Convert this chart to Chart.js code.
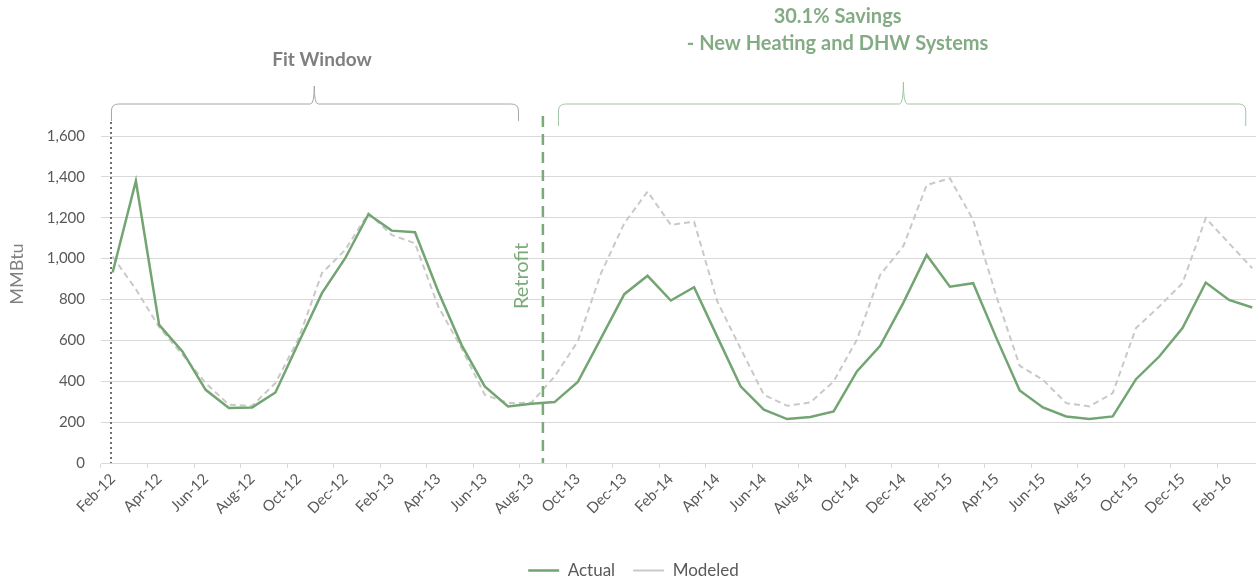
<!DOCTYPE html>
<html>
<head>
<meta charset="utf-8">
<script src="https://cdn.jsdelivr.net/npm/chart.js@4"></script>
<style>
html, body { margin: 0; padding: 0; background: #fff; overflow: hidden; }
#wrap { width: 1267px; height: 589px; position: relative; }
</style>
</head>
<body>
<div id="wrap"><canvas id="miGrafico"></canvas></div>
<script>
// meses Feb-12 .. Mar-16
const meses = [
    'Feb-12','Mar-12','Apr-12','May-12','Jun-12','Jul-12','Aug-12','Sep-12','Oct-12','Nov-12','Dec-12','Jan-13',
    'Feb-13','Mar-13','Apr-13','May-13','Jun-13','Jul-13','Aug-13','Sep-13','Oct-13','Nov-13','Dec-13','Jan-14',
    'Feb-14','Mar-14','Apr-14','May-14','Jun-14','Jul-14','Aug-14','Sep-14','Oct-14','Nov-14','Dec-14','Jan-15',
    'Feb-15','Mar-15','Apr-15','May-15','Jun-15','Jul-15','Aug-15','Sep-15','Oct-15','Nov-15','Dec-15','Jan-16',
    'Feb-16','Mar-16'
];
const actual = [
    932, 1380, 676, 546, 358, 269, 272, 345, 590, 831, 1002, 1217,
    1137, 1129, 839, 578, 375, 277, 290, 298, 396, 611, 826, 916,
    795, 860, 617, 375, 261, 215, 225, 252, 448, 573, 785, 1018,
    863, 880, 611, 355, 272, 228, 215, 228, 410, 521, 660, 883,
    798, 761
];
const modeled = [
    1010, 850, 665, 530, 391, 285, 280, 391, 610, 929, 1043, 1222,
    1116, 1075, 766, 562, 334, 293, 295, 423, 595, 929, 1173, 1328,
    1165, 1181, 790, 560, 334, 280, 296, 399, 603, 920, 1062, 1360,
    1393, 1189, 815, 476, 407, 293, 277, 342, 660, 766, 880, 1198,
    1075, 953
];
const yTicks = [0, 200, 400, 600, 800, 1000, 1200, 1400, 1600];

const FONT = 'Lato, "Liberation Sans", sans-serif';
const VERDE = '#72a572';
const GRIS_TXT = '#595959';

// llaves, lineas y textos (posiciones en indices de categoria)
function llave(ctx, x1, x2, xm, yLine, yTip, yEnd, color) {
    const r = 7;
    ctx.beginPath();
    ctx.moveTo(x1, yEnd);
    ctx.lineTo(x1, yLine + r);
    ctx.quadraticCurveTo(x1, yLine, x1 + r, yLine);
    ctx.lineTo(xm - 4, yLine);
    ctx.quadraticCurveTo(xm, yLine, xm, yTip);
    ctx.quadraticCurveTo(xm, yLine, xm + 4, yLine);
    ctx.lineTo(x2 - r, yLine);
    ctx.quadraticCurveTo(x2, yLine, x2, yLine + r);
    ctx.lineTo(x2, yEnd);
    ctx.strokeStyle = color;
    ctx.lineWidth = 1;
    ctx.setLineDash([]);
    ctx.stroke();
}

const notas = {
    id: 'notas',
    afterDatasetsDraw(chart) {
        const {ctx, chartArea, scales: {x}} = chart;
        const px = i => x.getPixelForValue(i);
        ctx.save();

        // inicio de la ventana
        ctx.beginPath();
        ctx.setLineDash([2, 3]);
        ctx.strokeStyle = '#6f6f6f';
        ctx.lineWidth = 2;
        ctx.moveTo(px(-0.07), 122);
        ctx.lineTo(px(-0.07), chartArea.bottom);
        ctx.stroke();

        // retrofit
        ctx.beginPath();
        ctx.setLineDash([11, 7]);
        ctx.strokeStyle = '#7aaa7a';
        ctx.lineWidth = 2.5;
        ctx.moveTo(px(18.5), 116);
        ctx.lineTo(px(18.5), chartArea.bottom);
        ctx.stroke();

        llave(ctx, px(-0.05), px(17.45), px(8.67), 104, 86, 121, '#a6a6a6');
        llave(ctx, px(19.17), px(48.72), px(34.0), 104, 82, 126, '#a3c5a3');

        ctx.setLineDash([]);
        ctx.textAlign = 'center';
        ctx.textBaseline = 'middle';
        ctx.font = 'bold 19px ' + FONT;
        ctx.fillStyle = '#7f7f7f';
        ctx.fillText('Fit Window', px(9.0), 60);
        ctx.font = 'bold 20px ' + FONT;
        ctx.fillStyle = '#84ac84';
        ctx.fillText('30.1% Savings', px(31.17), 17);
        ctx.fillText('- New Heating and DHW Systems', px(31.17), 44);

        ctx.save();
        ctx.translate(px(17.6), 276);
        ctx.rotate(-Math.PI / 2);
        ctx.font = '20px ' + FONT;
        ctx.fillStyle = '#7aaa7a';
        ctx.fillText('Retrofit', 0, 0);
        ctx.restore();

        ctx.save();
        ctx.translate(17, 274);
        ctx.rotate(-Math.PI / 2);
        ctx.font = '18px ' + FONT;
        ctx.fillStyle = '#808080';
        ctx.fillText('MMBtu', 0, 0);
        ctx.restore();

        ctx.restore();
    }
};

const grafico = new Chart(document.getElementById('miGrafico'), {
    type: 'line',
    data: {
        labels: meses,
        datasets: [{
            label: 'Actual',
            data: actual,
            borderColor: VERDE,
            backgroundColor: 'transparent',
            borderWidth: 2.5,
            pointRadius: 0,
            tension: 0,
            order: 1
        }, {
            label: 'Modeled',
            data: modeled,
            borderColor: '#c9c9c9',
            backgroundColor: 'transparent',
            borderWidth: 2,
            borderDash: [6, 4],
            pointRadius: 0,
            tension: 0,
            order: 2
        }]
    },
    options: {
        responsive: true,
        maintainAspectRatio: false,
        animation: false,
        layout: { padding: { top: 136, left: 0, right: 0, bottom: 0 } },
        plugins: {
            legend: {
                position: 'bottom',
                labels: {
                    boxWidth: 31,
                    boxHeight: 0,
                    padding: 18,
                    color: GRIS_TXT,
                    font: { family: FONT, size: 17 }
                }
            },
            tooltip: { enabled: false }
        },
        scales: {
            x: {
                offset: true,
                afterFit: s => { s.height = 81; },
                grid: {
                    offset: true,
                    drawOnChartArea: false,
                    tickLength: 5,
                    color: c => (c.index % 2 === 0 ? '#d9d9d9' : 'rgba(0,0,0,0)')
                },
                border: { color: '#d9d9d9' },
                ticks: {
                    autoSkip: false,
                    minRotation: 45,
                    maxRotation: 45,
                    padding: 2,
                    color: GRIS_TXT,
                    font: { family: FONT, size: 15 },
                    callback: (v, i) => (i % 2 === 0 ? meses[i] : '')
                }
            },
            y: {
                min: yTicks[0],
                max: yTicks[yTicks.length - 1],
                afterFit: s => { s.width = 101; },
                afterBuildTicks: s => { s.ticks = yTicks.map(v => ({ value: v })); },
                grid: { color: '#d9d9d9', drawTicks: false },
                border: { display: false },
                ticks: {
                    padding: 16,
                    color: GRIS_TXT,
                    font: { family: FONT, size: 15 },
                    callback: v => v.toLocaleString('en-US')
                }
            }
        }
    },
    plugins: [notas]
});
</script>
</body>
</html>
